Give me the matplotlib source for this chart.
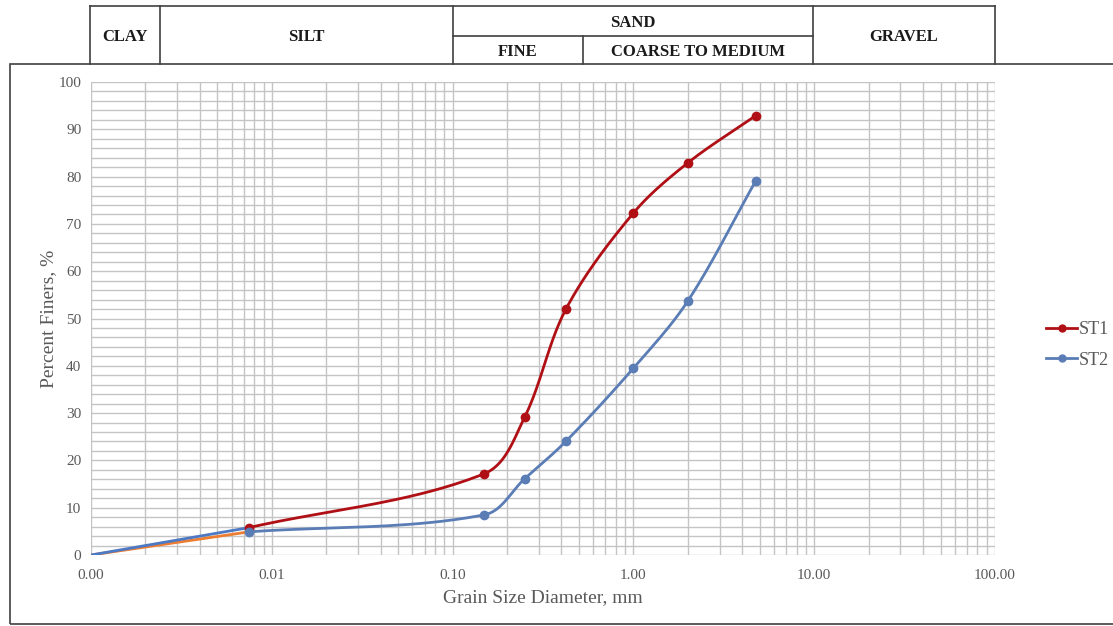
import numpy as np
import matplotlib.pyplot as plt
from matplotlib.lines import Line2D
from matplotlib.ticker import FixedLocator, FixedFormatter, LogLocator, NullFormatter

plt.rcParams['font.family'] = ['Liberation Serif', 'DejaVu Serif']

# sieve sizes (mm) and percent finer
sizes = [0.0075, 0.15, 0.25, 0.425, 1.0, 2.0, 4.75]
st1 = [5.8, 17.2, 29.1, 52.1, 72.3, 82.9, 92.9]
st2 = [4.9, 8.5, 16.1, 24.1, 39.5, 53.7, 79.1]
start_size = 0.001
start_val = 0.0

xticks = [0.001, 0.01, 0.1, 1, 10, 100]
xtick_labels = ['0.00', '0.01', '0.10', '1.00', '10.00', '100.00']

c1 = '#B01015'
c2 = '#5B7DB6'
c_extra_blue = '#4C78C4'
c_extra_orange = '#ED7D31'

W, H = 1113, 626
fig = plt.figure(figsize=(W / 100, H / 100), dpi=100)
ax = fig.add_axes([91 / W, 1 - 555 / H, (995 - 91) / W, (555 - 82) / H])
ax.set_xscale('log')
ax.set_xlim(0.001, 100)
ax.set_ylim(0, 100)


def smooth(xs, ys, n=40):
    # smoothed line in screen space, tangents scaled to each segment length
    u = (np.log10(xs) + 3) / 5 * 904
    v = np.asarray(ys) / 100 * 473
    p = np.column_stack([u, v])
    p = np.vstack([p[0], p, p[-1]])
    out = []
    t = np.linspace(0, 1, n)[:, None]
    for i in range(1, len(p) - 2):
        p0, p1, p2, p3 = p[i - 1], p[i], p[i + 1], p[i + 2]
        seg_len = np.linalg.norm(p2 - p1)
        d1 = (p2 - p0) / np.linalg.norm(p2 - p0)
        d2 = (p3 - p1) / np.linalg.norm(p3 - p1)
        b1 = p1 + d1 * seg_len / 3
        b2 = p2 - d2 * seg_len / 3
        seg = (1 - t) ** 3 * p1 + 3 * (1 - t) ** 2 * t * b1 + 3 * (1 - t) * t ** 2 * b2 + t ** 3 * p2
        out.append(seg)
    out = np.vstack(out)
    return 10 ** (out[:, 0] / 904 * 5 - 3), out[:, 1] / 473 * 100


# extra linking segments from the origin
ax.plot([start_size, sizes[0]], [start_val, st2[0]], color=c_extra_orange, lw=2, zorder=3)
ax.plot([start_size, sizes[0]], [start_val, st1[0]], color=c_extra_blue, lw=2, zorder=3)

for vals, col, lab in [(st1, c1, 'ST1'), (st2, c2, 'ST2')]:
    sx, sy = smooth(sizes, vals)
    ax.plot(sx, sy, color=col, lw=2, zorder=4)
    ax.plot(sizes, vals, 'o', color=col, ms=6, zorder=5)

handles = [Line2D([], [], color=c1, lw=2, marker='o', ms=5),
           Line2D([], [], color=c2, lw=2, marker='o', ms=5)]
fig.legend(handles, ['ST1', 'ST2'], loc='center left', bbox_to_anchor=(1030 / W, 1 - 345 / H),
           frameon=False, fontsize=13, handlelength=1.7, handletextpad=0.1,
           labelspacing=0.75, labelcolor='#595959')

ax.xaxis.set_major_locator(FixedLocator(xticks))
ax.xaxis.set_major_formatter(FixedFormatter(xtick_labels))
ax.xaxis.set_minor_locator(LogLocator(base=10, subs=np.arange(2, 10), numticks=20))
ax.xaxis.set_minor_formatter(NullFormatter())
ax.set_yticks(np.arange(0, 101, 10))
ax.set_yticks(np.arange(0, 101, 2), minor=True)
ax.grid(True, which='both', color='#C4C4C4', lw=1)
ax.set_axisbelow(True)
for s in ax.spines.values():
    s.set_visible(False)
ax.tick_params(which='both', length=0, colors='#595959', labelsize=11)
ax.tick_params(axis='x', pad=10)
ax.tick_params(axis='y', pad=7)

ax.set_xlabel('Grain Size Diameter, mm', fontsize=14, color='#595959', labelpad=5)
ax.set_ylabel('Percent Finers, %', fontsize=14, color='#595959', labelpad=1)

# outer chart frame
fig.add_artist(plt.Rectangle((10 / W, 2 / H), (W + 20) / W, (H - 64 - 2) / H,
                             transform=fig.transFigure, fill=False, ec='#404040', lw=1.2))


# soil classification table on top
def fline(x0, y0, x1, y1):
    fig.add_artist(Line2D([x0 / W, x1 / W], [1 - y0 / H, 1 - y1 / H],
                          transform=fig.transFigure, color='#404040', lw=1.2))


fline(90, 6, 995, 6)
for xv in [90, 160, 453, 813, 995]:
    fline(xv, 6, xv, 64)
fline(583, 36, 583, 64)
fline(453, 36, 813, 36)

cells = [('CLAY', 125, 37), ('SILT', 306, 37), ('SAND', 633, 23),
         ('FINE', 518, 52), ('COARSE TO MEDIUM', 698, 52), ('GRAVEL', 904, 37)]
for txt, xv, yv in cells:
    fig.text(xv / W, 1 - yv / H, txt, ha='center', va='center', fontsize=12,
             fontweight='bold', color='#1a1a1a')

fig.savefig('out.png', dpi=100, facecolor='white')
